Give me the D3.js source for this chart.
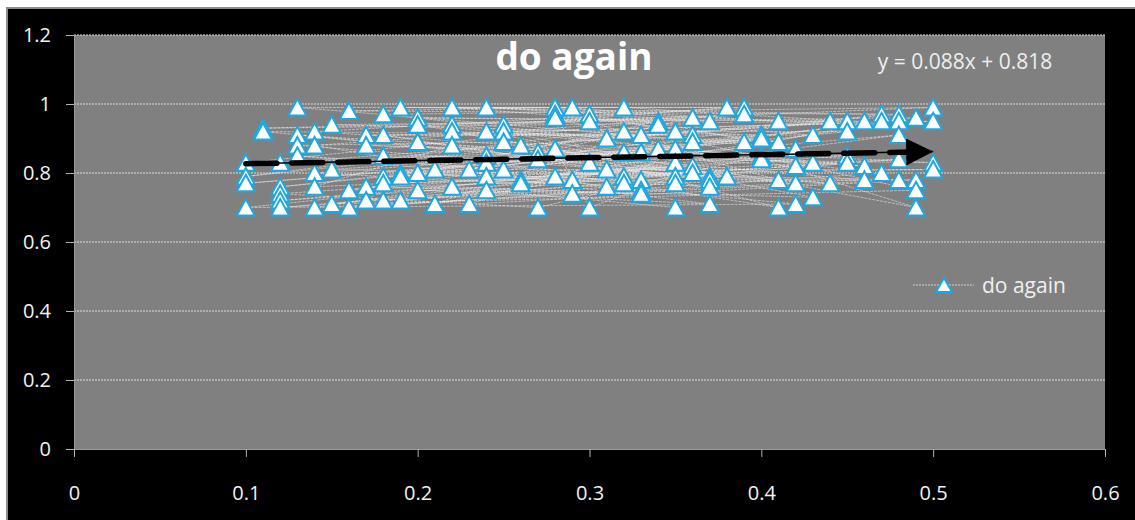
<!DOCTYPE html>
<html>
<head>
<meta charset="utf-8">
<script src="https://cdn.jsdelivr.net/npm/d3@7"></script>
<style>
  body { margin: 0; background: #fff; }
  text { font-family: "Open Sans", sans-serif; }
</style>
</head>
<body>
<div id="chart"></div>
<script>
const chartTitle = 'do again';
const seriesName = 'do again';
const xTicks = [0, 0.1, 0.2, 0.3, 0.4, 0.5, 0.6];
const yTicks = [0, 0.2, 0.4, 0.6, 0.8, 1, 1.2];

// points in the order they were entered (the connecting lines follow this order)
const doAgainX = [
  0.10, 0.34, 0.21, 0.47, 0.16, 0.29, 0.42, 0.13, 0.38, 0.25, 0.50, 0.18, 0.31, 0.44, 0.11, 0.36, 0.23, 0.49, 0.15, 0.40, 0.27, 0.12, 0.45, 0.32, 0.19, 0.48, 0.26, 0.14, 0.39, 0.22, 0.43, 0.17, 0.33, 0.46, 0.20, 0.37, 0.24, 0.41, 0.28, 0.30, 0.35,
  0.10, 0.34, 0.21, 0.47, 0.16, 0.29, 0.42, 0.13, 0.38, 0.25, 0.50, 0.18, 0.31, 0.44, 0.11, 0.36, 0.23, 0.49, 0.15, 0.40, 0.27, 0.12, 0.45, 0.32, 0.19, 0.48, 0.26, 0.14, 0.39, 0.22, 0.43, 0.17, 0.33, 0.46, 0.20, 0.37, 0.24, 0.41, 0.28, 0.30, 0.35,
  0.10, 0.34, 0.47, 0.16, 0.29, 0.42, 0.13, 0.25, 0.50, 0.18, 0.31, 0.36, 0.49, 0.15, 0.40, 0.27, 0.12, 0.45, 0.32, 0.19, 0.48, 0.26, 0.14, 0.39, 0.22, 0.43, 0.17, 0.33, 0.46, 0.20, 0.37, 0.24, 0.41, 0.28, 0.30, 0.35,
  0.10, 0.42, 0.13, 0.25, 0.50, 0.18, 0.36, 0.49, 0.40, 0.12, 0.45, 0.32, 0.19, 0.48, 0.14, 0.22, 0.17, 0.33, 0.20, 0.37, 0.24, 0.41, 0.28, 0.30, 0.35,
  0.18, 0.36, 0.12, 0.32, 0.48, 0.14, 0.22, 0.33, 0.20, 0.37, 0.24, 0.28, 0.35,
  0.18, 0.24, 0.35
];
const doAgainY = [
  0.83, 0.95, 0.81, 0.97, 0.98, 0.99, 0.87, 0.99, 0.99, 0.94, 0.99, 0.97, 0.90, 0.95, 0.93, 0.96, 0.81, 0.96, 0.94, 0.91, 0.86, 0.83, 0.95, 0.99, 0.99, 0.97, 0.88, 0.92, 0.99, 0.99, 0.91, 0.91, 0.91, 0.95, 0.96, 0.95, 0.99, 0.95, 0.99, 0.97, 0.92,
  0.79, 0.94, 0.71, 0.95, 0.75, 0.78, 0.82, 0.91, 0.79, 0.92, 0.95, 0.91, 0.81, 0.77, 0.92, 0.91, 0.71, 0.78, 0.81, 0.90, 0.84, 0.76, 0.92, 0.92, 0.80, 0.95, 0.78, 0.88, 0.97, 0.94, 0.83, 0.88, 0.86, 0.82, 0.94, 0.79, 0.92, 0.89, 0.97, 0.95, 0.87,
  0.77, 0.87, 0.80, 0.70, 0.74, 0.77, 0.88, 0.89, 0.83, 0.85, 0.76, 0.89, 0.75, 0.71, 0.85, 0.70, 0.74, 0.85, 0.86, 0.79, 0.91, 0.77, 0.80, 0.89, 0.92, 0.73, 0.76, 0.78, 0.78, 0.89, 0.78, 0.85, 0.78, 0.96, 0.83, 0.83,
  0.70, 0.71, 0.85, 0.81, 0.81, 0.79, 0.82, 0.70, 0.84, 0.72, 0.83, 0.79, 0.72, 0.84, 0.76, 0.88, 0.72, 0.75, 0.80, 0.76, 0.83, 0.70, 0.87, 0.70, 0.79,
  0.77, 0.80, 0.70, 0.77, 0.78, 0.70, 0.76, 0.74, 0.75, 0.71, 0.79, 0.79, 0.77,
  0.72, 0.75, 0.70
];
const trendSlope = 0.088;
const trendIntercept = 0.818;

const width = 1135, height = 520;
const plot = { left: 74, right: 1105, top: 35, bottom: 449 };

const svg = d3.select('#chart')
  .append('svg')
  .attr('width', width)
  .attr('height', height);

// chart area: black with a grey edge
svg.append('rect')
  .attr('x', 7).attr('y', 8)
  .attr('width', width).attr('height', height)
  .attr('fill', '#000')
  .attr('stroke', '#8c8c8c')
  .attr('stroke-width', 2);

const x = d3.scaleLinear().domain([0, 0.6]).range([plot.left, plot.right]);
const y = d3.scaleLinear().domain([0, 1.2]).range([plot.bottom, plot.top]);

svg.append('rect')
  .attr('x', plot.left).attr('y', plot.top)
  .attr('width', plot.right - plot.left).attr('height', plot.bottom - plot.top)
  .attr('fill', '#808080');

// gridlines
svg.append('g')
  .selectAll('line')
  .data(yTicks.filter(d => d > 0))
  .enter()
  .append('line')
  .attr('x1', plot.left).attr('x2', plot.right)
  .attr('y1', d => y(d)).attr('y2', d => y(d))
  .attr('stroke', '#dcdcdc')
  .attr('stroke-width', 1)
  .attr('stroke-dasharray', '2,1');

// axes
const yAxis = svg.append('g')
  .attr('transform', `translate(${plot.left},0)`)
  .call(d3.axisLeft(y).tickValues(yTicks).tickSize(8).tickPadding(15).tickFormat(d => d));
const xAxis = svg.append('g')
  .attr('transform', `translate(0,${plot.bottom})`)
  .call(d3.axisBottom(x).tickValues(xTicks).tickSize(8).tickPadding(29).tickFormat(d => d));

[xAxis, yAxis].forEach(g => {
  g.select('.domain').attr('stroke', '#9a9a9a');
  g.selectAll('.tick line').attr('stroke', '#b4b4b4');
  g.selectAll('.tick text')
    .attr('fill', '#f2f2f2')
    .style('font-size', '20px')
    .style('font-family', '"Open Sans", sans-serif');
});

// connecting lines between points
const pts = doAgainX.map((v, i) => [v, doAgainY[i]]);
const line = d3.line().x(d => x(d[0])).y(d => y(d[1]));

svg.append('path')
  .datum(pts)
  .attr('d', line)
  .attr('fill', 'none')
  .attr('stroke', '#eeeeee')
  .attr('stroke-opacity', 0.55)
  .attr('stroke-width', 1)
  .attr('stroke-dasharray', '3,1');

// triangle markers
const tri = 'M0,-8.5L9,8L-9,8Z';
svg.append('g')
  .selectAll('path')
  .data(pts)
  .enter()
  .append('path')
  .attr('d', tri)
  .attr('transform', d => `translate(${x(d[0])},${y(d[1])})`)
  .attr('fill', '#fff')
  .attr('stroke', '#1ea7e1')
  .attr('stroke-width', 2);

// linear trendline with arrow
const xMin = d3.min(doAgainX), xMax = d3.max(doAgainX);
const trend = [[xMin, trendSlope * xMin + trendIntercept], [xMax, trendSlope * xMax + trendIntercept]];

svg.append('defs').append('marker')
  .attr('id', 'arrow')
  .attr('viewBox', '0 0 10 10')
  .attr('refX', 10).attr('refY', 5)
  .attr('markerUnits', 'userSpaceOnUse')
  .attr('markerWidth', 27).attr('markerHeight', 27)
  .attr('orient', 'auto')
  .append('path')
  .attr('d', 'M0,0L10,5L0,10Z')
  .attr('fill', '#000');

const trendEnd = [trend[0], [trend[1][0] - 0.012, trendSlope * (trend[1][0] - 0.012) + trendIntercept]];

svg.append('path')
  .datum(trend)
  .attr('d', line)
  .attr('stroke', '#000')
  .attr('stroke-width', 1.5)
  .attr('fill', 'none')
  .attr('marker-end', 'url(#arrow)');

svg.append('path')
  .datum(trendEnd)
  .attr('d', line)
  .attr('stroke', '#000')
  .attr('stroke-width', 5.5)
  .attr('stroke-linecap', 'round')
  .attr('stroke-dasharray', '31,15')
  .attr('fill', 'none');

// title and equation
svg.append('text')
  .attr('x', 574).attr('y', 70)
  .attr('text-anchor', 'middle')
  .attr('fill', '#fff')
  .style('font-size', '37px')
  .style('font-weight', 'bold')
  .text(chartTitle);

svg.append('text')
  .attr('x', 965).attr('y', 69)
  .attr('text-anchor', 'middle')
  .attr('fill', '#eeeeee')
  .style('font-size', '21px')
  .text(`y = ${trendSlope}x + ${trendIntercept}`);

// legend
const legend = svg.append('g').attr('transform', 'translate(944,285)');
legend.append('line')
  .attr('x1', -31).attr('x2', 30)
  .attr('stroke', '#d0d0d0')
  .attr('stroke-width', 1)
  .attr('stroke-dasharray', '2,1');
legend.append('path')
  .attr('d', 'M0,-7L8,7L-8,7Z')
  .attr('fill', '#fff')
  .attr('stroke', '#1ea7e1')
  .attr('stroke-width', 2);
legend.append('text')
  .attr('x', 38).attr('y', 8)
  .attr('fill', '#f0f0f0')
  .style('font-size', '21px')
  .text(seriesName);
</script>
</body>
</html>
